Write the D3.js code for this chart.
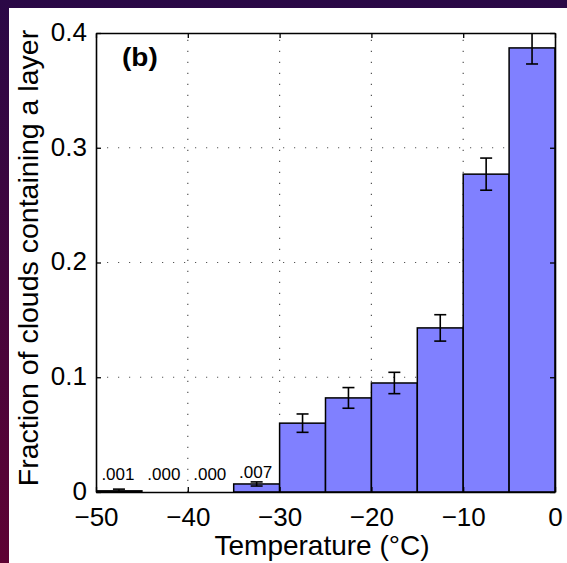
<!DOCTYPE html>
<html>
<head>
<meta charset="utf-8">
<script src="https://cdn.jsdelivr.net/npm/d3@7"></script>
<style>
  html, body { margin: 0; padding: 0; background: #2b0845; }
  svg { display: block; }
  text { font-family: "Liberation Sans", Arial, Helvetica, sans-serif; fill: #000; }
</style>
</head>
<body>
<svg id="chart" width="567" height="563"></svg>
<script>
// Temperature bins (left edge, °C), each 5 °C wide
const binStart = [-50, -45, -40, -35, -30, -25, -20, -15, -10, -5];
const binWidth = 5;
// Fraction of clouds containing a layer in each bin
const fraction = [0.001, 0.000, 0.000, 0.007, 0.060, 0.082, 0.095, 0.143, 0.277, 0.387];
// Half-length of the error bar for each bin (0 = no bar)
const errHalf = [0.0015, 0, 0, 0.0018, 0.008, 0.009, 0.0093, 0.0115, 0.014, 0.014];
// Printed values above the coldest bins
const valueText = [".001", ".000", ".000", ".007"];
// Tick values
const xTicks = [-50, -40, -30, -20, -10, 0];
const yTicks = [0, 0.1, 0.2, 0.3, 0.4];
const xGrid = [-40, -30, -20, -10];
const yGrid = [0.1, 0.2, 0.3];

const W = 567, H = 563;
const plot = { left: 96, right: 555, top: 33, bottom: 492 };

const svg = d3.select("#chart");

// page backdrop and white panel
const defs = svg.append("defs");
const grad = defs.append("linearGradient").attr("id", "bg").attr("x1", 0).attr("y1", 0).attr("x2", 0).attr("y2", 1);
grad.append("stop").attr("offset", "0%").attr("stop-color", "#2a0846");
grad.append("stop").attr("offset", "100%").attr("stop-color", "#5e0233");
svg.append("rect").attr("width", W).attr("height", H).attr("fill", "url(#bg)");
svg.append("rect").attr("x", 9).attr("y", 8).attr("width", W - 9).attr("height", H - 8).attr("fill", "#fff");

defs.append("clipPath").attr("id", "plotClip").append("rect")
  .attr("x", plot.left).attr("y", plot.top)
  .attr("width", plot.right - plot.left).attr("height", plot.bottom - plot.top);

const x = d3.scaleLinear().domain([-50, 0]).range([plot.left, plot.right]);
const y = d3.scaleLinear().domain([0, 0.4]).range([plot.bottom, plot.top]);

// dotted grid
const grid = svg.append("g").attr("stroke", "#555").attr("stroke-width", 1.2)
  .attr("stroke-dasharray", "1.2,9.8").attr("fill", "none");
grid.selectAll("line.v").data(xGrid).join("line").attr("class", "v")
  .attr("x1", d => x(d)).attr("x2", d => x(d)).attr("y1", plot.bottom).attr("y2", plot.top);
grid.selectAll("line.h").data(yGrid).join("line").attr("class", "h")
  .attr("x1", plot.left).attr("x2", plot.right).attr("y1", d => y(d)).attr("y2", d => y(d));

const data = binStart.map((b, i) => ({ b, v: fraction[i], e: errHalf[i], label: valueText[i] }));

const marks = svg.append("g").attr("clip-path", "url(#plotClip)");

// bars
marks.selectAll("rect.bar").data(data).join("rect").attr("class", "bar")
  .attr("x", d => x(d.b)).attr("width", d => x(d.b + binWidth) - x(d.b))
  .attr("y", d => y(d.v)).attr("height", d => y(0) - y(d.v))
  .attr("fill", "#8080ff").attr("stroke", "#000").attr("stroke-width", 1.5);

// error bars
const eb = marks.selectAll("g.err").data(data.filter(d => d.e > 0)).join("g").attr("class", "err")
  .attr("stroke", "#000").attr("stroke-width", 1.6);
const cx = d => x(d.b + binWidth / 2);
eb.append("line").attr("x1", cx).attr("x2", cx).attr("y1", d => y(d.v - d.e)).attr("y2", d => y(d.v + d.e));
eb.append("line").attr("x1", d => cx(d) - 6).attr("x2", d => cx(d) + 6).attr("y1", d => y(d.v - d.e)).attr("y2", d => y(d.v - d.e));
eb.append("line").attr("x1", d => cx(d) - 6).attr("x2", d => cx(d) + 6).attr("y1", d => y(d.v + d.e)).attr("y2", d => y(d.v + d.e));

// value labels on the coldest bins
svg.append("g").selectAll("text").data(data.filter(d => d.label)).join("text")
  .attr("x", d => cx(d) - 1).attr("y", d => y(d.v * 0.3) - 12)
  .attr("text-anchor", "middle").attr("font-size", 17).text(d => d.label);

// axes with inward ticks on all four sides
const fmtX = d => d === 0 ? "0" : "\u2212" + Math.abs(d);
const fmtY = d => d === 0 ? "0" : d3.format(".1f")(d);

const axB = svg.append("g").attr("transform", `translate(0,${plot.bottom})`)
  .call(d3.axisBottom(x).tickValues(xTicks).tickFormat(fmtX).tickSize(-5).tickSizeOuter(0).tickPadding(16));
const axT = svg.append("g").attr("transform", `translate(0,${plot.top})`)
  .call(d3.axisTop(x).tickValues(xTicks).tickFormat("").tickSize(-5).tickSizeOuter(0));
const axL = svg.append("g").attr("transform", `translate(${plot.left},0)`)
  .call(d3.axisLeft(y).tickValues(yTicks).tickFormat(fmtY).tickSize(-5).tickSizeOuter(0).tickPadding(9));
const axR = svg.append("g").attr("transform", `translate(${plot.right},0)`)
  .call(d3.axisRight(y).tickValues(yTicks).tickFormat("").tickSize(-5).tickSizeOuter(0));

[axB, axT, axL, axR].forEach(a => {
  a.select(".domain").attr("stroke", "#000").attr("stroke-width", 1.6);
  a.selectAll(".tick line").attr("stroke", "#000").attr("stroke-width", 1.3);
  a.selectAll("text").attr("font-size", 26).attr("font-family", "Liberation Sans, Arial, sans-serif").attr("fill", "#000");
});
axL.selectAll("text").attr("dy", "0.28em");

// panel tag
svg.append("text").attr("transform", "translate(122,66) scale(1.12,1)")
  .attr("font-size", 25).attr("font-weight", "bold").text("(b)");

// axis titles
svg.append("text").attr("x", 322).attr("y", 555)
  .attr("text-anchor", "middle").attr("font-size", 28).text("Temperature (\u00B0C)");
svg.append("text").attr("transform", `translate(38,258) rotate(-90)`)
  .attr("text-anchor", "middle").attr("font-size", 28.5).text("Fraction of clouds containing a layer");
</script>
</body>
</html>
